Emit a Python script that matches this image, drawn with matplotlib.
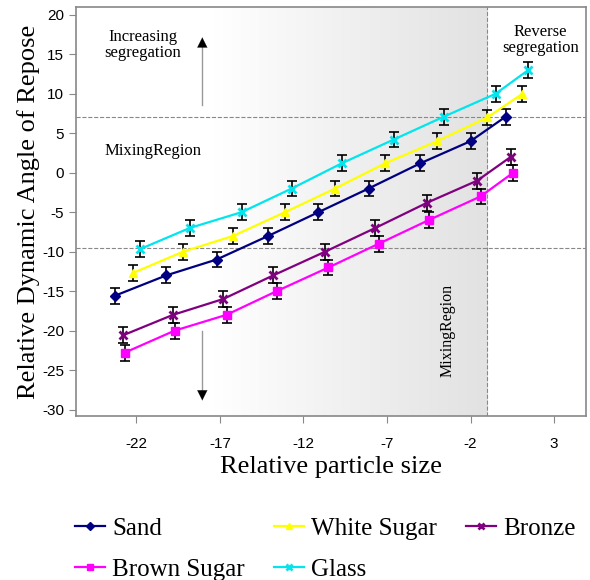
import numpy as np
import matplotlib.pyplot as plt
from matplotlib.colors import LinearSegmentedColormap

plt.rcParams['axes.unicode_minus'] = False

# data
sand_x = [-23.3, -20.2, -17.2, -14.1, -11.1, -8.1, -5.0, -2.0, 0.1]
sand_y = [-15.6, -13.0, -11.0, -8.0, -5.0, -2.0, 1.2, 4.0, 7.1]
white_x = [-22.2, -19.2, -16.2, -13.1, -10.1, -7.1, -4.0, -1.0, 1.1]
white_y = [-12.7, -10.0, -8.0, -5.0, -2.0, 1.2, 4.0, 7.0, 10.0]
bronze_x = [-22.8, -19.8, -16.8, -13.8, -10.7, -7.7, -4.6, -1.6, 0.4]
bronze_y = [-20.6, -18.0, -16.0, -13.0, -10.0, -7.0, -3.8, -1.0, 2.0]
brown_x = [-22.7, -19.7, -16.6, -13.6, -10.5, -7.5, -4.5, -1.4, 0.55]
brown_y = [-22.8, -20.0, -18.0, -15.0, -12.0, -9.0, -6.0, -3.0, 0.0]
glass_x = [-21.8, -18.8, -15.7, -12.7, -9.7, -6.6, -3.6, -0.5, 1.45]
glass_y = [-9.7, -7.0, -5.0, -2.0, 1.2, 4.2, 7.1, 10.0, 13.0]
err = 1.0

xticks = [-22, -17, -12, -7, -2, 3]
yticks = list(range(-30, 25, 5))

fig = plt.figure(figsize=(5.9, 5.8), dpi=100)
ax = fig.add_axes([0.129, 0.283, 0.864, 0.705])
ax.set_xlim(-25.6, 4.9)
ax.set_ylim(-30.8, 21)

# shaded gradient up to the mixing boundary
xmix = -1.0
cm = LinearSegmentedColormap.from_list('g', ['#ffffff', '#ffffff', '#f0f0f0', '#e2e2e2'])
grad = np.linspace(0, 1, 256).reshape(1, -1)
ax.imshow(grad, cmap=cm, aspect='auto', extent=[-25.6, xmix, -30.8, 21], zorder=0)
ax.axvline(xmix, color='#888888', ls='--', lw=0.8, zorder=1)
ax.axhline(7, color='#888888', ls='--', lw=0.8, zorder=1)
ax.axhline(-9.5, color='#888888', ls='--', lw=0.8, zorder=1)

series = [
    ('Sand', sand_x, sand_y, '#000080', 'D', 5),
    ('Brown Sugar', brown_x, brown_y, '#ff00ff', 's', 6),
    ('White Sugar', white_x, white_y, '#ffff00', '^', 6),
    ('Glass', glass_x, glass_y, '#00e5ee', 'x', 6),
    ('Bronze', bronze_x, bronze_y, '#800080', 'x', 6),
]
handles = []
for name, xs, ys, c, m, ms in series:
    ax.errorbar(xs, ys, yerr=err, fmt='none', ecolor='black', elinewidth=1.2,
                capsize=3.5, capthick=1.2, zorder=3)
    h, = ax.plot(xs, ys, color=c, marker=m, ms=ms, lw=1.6, mew=2 if m == 'x' else 1,
                 label=name, zorder=4)
    handles.append(h)

serif = 'Liberation Serif'
ax.text(-21.6, 16.2, 'Increasing\nsegregation', family=serif, fontsize=12,
        ha='center', va='center', linespacing=1.0)
ax.text(-21.0, 2.7, 'MixingRegion', family=serif, fontsize=12, ha='center', va='center')
ax.text(-3.4, -20, 'MixingRegion', family=serif, fontsize=11.5, ha='center', va='center',
        rotation=90)
ax.text(2.2, 16.8, 'Reverse\nsegregation', family=serif, fontsize=12,
        ha='center', va='center', linespacing=1.0)

# arrows: grey shaft, black head
ax.plot([-18.05, -18.05], [8.6, 16], color='#999999', lw=1.0)
ax.annotate('', xy=(-18.05, 17.5), xytext=(-18.05, 15.5),
            arrowprops=dict(arrowstyle='-|>', color='black', lw=0.1, mutation_scale=18))
ax.plot([-18.05, -18.05], [-20.1, -27.5], color='#999999', lw=1.0)
ax.annotate('', xy=(-18.05, -29.2), xytext=(-18.05, -27.2),
            arrowprops=dict(arrowstyle='-|>', color='black', lw=0.1, mutation_scale=18))

ax.set_xticks(xticks)
ax.set_yticks(yticks)
ax.tick_params(labelsize=11, color='#888888', length=5)
ax.tick_params(axis='x', pad=10)
for lab in ax.get_xticklabels() + ax.get_yticklabels():
    lab.set_family('Liberation Sans')
for s in ax.spines.values():
    s.set_color('#888888')
    s.set_linewidth(1.2)

ax.set_xlabel('Relative particle size', family=serif, fontsize=19, labelpad=4)
ax.set_ylabel('Relative Dynamic Angle of Repose', family=serif, fontsize=19, labelpad=2)

fig.legend(handles=handles, loc='upper left', bbox_to_anchor=(75 / 590, 0.108), ncol=3,
           frameon=False, prop={'family': serif, 'size': 18}, columnspacing=1.15,
           handlelength=1.2, handletextpad=0.3, labelspacing=0.75,
           borderpad=0, borderaxespad=0, markerscale=0.8)

fig.savefig('out.png', dpi=100)
